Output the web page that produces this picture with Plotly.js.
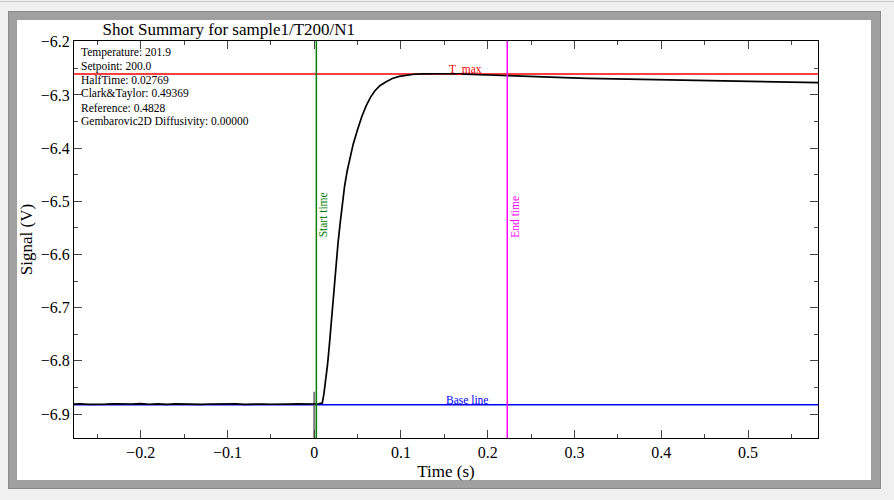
<!DOCTYPE html>
<html>
<head>
<meta charset="utf-8">
<script src="https://cdn.plot.ly/plotly-3.0.1.min.js"></script>
<style>
  html, body { margin:0; padding:0; background:#f0f0f0; width:894px; height:500px; overflow:hidden; }
  #topline { position:absolute; left:0; top:1px; width:894px; height:1px; background:#c8c8c8; }
  #frame { position:absolute; left:8px; top:11px; width:871px; height:476px; background:#a0a0a0; border:1px solid #8a8a8a; }
  #inner { position:absolute; left:17px; top:20px; width:854px; height:460px; background:#ffffff; }
  #chart { position:absolute; left:0; top:0; width:894px; height:500px; }
</style>
</head>
<body>
<div id="topline"></div>
<div id="frame"></div>
<div id="inner"></div>
<div id="chart"></div>
<script>
// ---- data ----
const chartTitle = "Shot Summary for sample1/T200/N1";
const xTitle = "Time (s)";
const yTitle = "Signal (V)";

const time = [
  -0.2768, -0.27, -0.26, -0.25, -0.24, -0.23, -0.22, -0.21, -0.20, -0.19,
  -0.18, -0.17, -0.16, -0.15, -0.14, -0.13, -0.12, -0.11, -0.10, -0.09,
  -0.08, -0.07, -0.06, -0.05, -0.04, -0.03, -0.02, -0.01, 0.000, 0.005,
  0.0093, 0.0112, 0.0135, 0.0155, 0.0175, 0.0195, 0.0215, 0.0235, 0.0255, 0.0275,
  0.0300, 0.0325, 0.0350, 0.0380, 0.0410, 0.0450, 0.0500, 0.0550, 0.0600, 0.0650,
  0.0700, 0.0760, 0.0830, 0.0900, 0.0980, 0.1060, 0.115,
  0.125, 0.135, 0.145, 0.155, 0.165, 0.175, 0.185, 0.195, 0.205, 0.215,
  0.225, 0.235, 0.245, 0.255, 0.265, 0.275, 0.285, 0.295, 0.305, 0.315,
  0.325, 0.335, 0.345, 0.355, 0.365, 0.375, 0.385, 0.395, 0.405, 0.415,
  0.425, 0.435, 0.445, 0.455, 0.465, 0.475, 0.485, 0.495, 0.505, 0.515,
  0.525, 0.535, 0.545, 0.555, 0.565, 0.575, 0.5806
];
const signal = [
  -6.8812, -6.8806, -6.8817, -6.8809, -6.8814, -6.8808, -6.8816, -6.8811, -6.8805, -6.8815,
  -6.8810, -6.8818, -6.8807, -6.8813, -6.8809, -6.8816, -6.8811, -6.8806, -6.8814, -6.8810,
  -6.8817, -6.8808, -6.8812, -6.8815, -6.8807, -6.8813, -6.8810, -6.8814, -6.8811, -6.8806,
  -6.8795, -6.862, -6.835, -6.805, -6.770, -6.731, -6.690, -6.650, -6.612, -6.578,
  -6.540, -6.503, -6.472, -6.443, -6.418, -6.392, -6.365, -6.340, -6.320, -6.304,
  -6.292, -6.282, -6.275, -6.269, -6.2650, -6.2625, -6.2610,
  -6.2602, -6.2598, -6.2600, -6.2601, -6.2604, -6.2610, -6.2616, -6.2624, -6.2632, -6.2640,
  -6.2648, -6.2653, -6.2658, -6.2663, -6.2667, -6.2671, -6.2675, -6.2679, -6.2683, -6.2686,
  -6.2689, -6.2692, -6.2695, -6.2698, -6.2701, -6.2704, -6.2707, -6.2710, -6.2713, -6.2716,
  -6.2719, -6.2722, -6.2725, -6.2728, -6.2731, -6.2734, -6.2737, -6.2740, -6.2743, -6.2746,
  -6.2749, -6.2752, -6.2755, -6.2758, -6.2761, -6.2764, -6.2768
];

// short flash marker at t = 0
const flashTime = [0.0, 0.0];
const flashSignal = [-6.858, -6.95];

const startTime = 0.0025;
const endTime = 0.2225;
const tMax = -6.2605;
const baseLine = -6.8825;
const markerLabelTime = 0.1525;

const infoLines = [
  "Temperature: 201.9",
  "Setpoint: 200.0",
  "HalfTime: 0.02769",
  "Clark&Taylor: 0.49369",
  "Reference: 0.4828",
  "Gembarovic2D Diffusivity: 0.00000"
];

const xRange = [-0.2768, 0.5806];
const yRange = [-6.945, -6.1985];
const xTickVals = [-0.2, -0.1, 0, 0.1, 0.2, 0.3, 0.4, 0.5];
const xTickText = ["\u22120.2", "\u22120.1", "0", "0.1", "0.2", "0.3", "0.4", "0.5"];
const yTickVals = [-6.9, -6.8, -6.7, -6.6, -6.5, -6.4, -6.3, -6.2];
const yTickText = ["\u22126.9", "\u22126.8", "\u22126.7", "\u22126.6", "\u22126.5", "\u22126.4", "\u22126.3", "\u22126.2"];

// ---- chart ----
const serif = "Liberation Serif, Times New Roman, serif";

const traces = [
  { x: xRange, y: [tMax, tMax], mode: "lines", line: { color: "#ff0000", width: 1.5 }, hoverinfo: "skip" },
  { x: xRange, y: [baseLine, baseLine], mode: "lines", line: { color: "#0000ff", width: 1.5 }, hoverinfo: "skip" },
  { x: flashTime, y: flashSignal, mode: "lines", line: { color: "#7a7a7a", width: 2 }, hoverinfo: "skip" },
  { x: time, y: signal, mode: "lines", line: { color: "#000000", width: 1.7 }, name: "signal" }
];

const shapes = [
  { type: "line", xref: "x", yref: "paper", x0: startTime, x1: startTime, y0: 0, y1: 1, line: { color: "#008000", width: 1.5 } },
  { type: "line", xref: "x", yref: "paper", x0: endTime, x1: endTime, y0: 0, y1: 1, line: { color: "#ff00ff", width: 1.5 } }
];

const annotations = [];
infoLines.forEach((t, i) => {
  annotations.push({
    text: t, xref: "paper", yref: "paper",
    x: 5 / 744, y: 1 - (11.5 + i * 13.8) / 397,
    xanchor: "left", yanchor: "middle", showarrow: false,
    font: { family: serif, size: 11.5, color: "#000000" }
  });
});
annotations.push({
  text: "Start time", xref: "x", yref: "paper", x: startTime, y: 0.5,
  xshift: 7, xanchor: "center", yanchor: "bottom", textangle: -90, showarrow: false,
  font: { family: serif, size: 11.5, color: "#008000" }
});
annotations.push({
  text: "End time", xref: "x", yref: "paper", x: endTime, y: 0.5,
  xshift: 7, xanchor: "center", yanchor: "bottom", textangle: -90, showarrow: false,
  font: { family: serif, size: 11.5, color: "#ff00ff" }
});
annotations.push({
  text: "T_max", xref: "x", yref: "y", x: markerLabelTime, y: tMax,
  xanchor: "left", yanchor: "bottom", yshift: -3, showarrow: false,
  font: { family: serif, size: 11.5, color: "#ff0000" }
});
annotations.push({
  text: "Base line", xref: "x", yref: "y", x: markerLabelTime - 0.003, y: baseLine,
  xanchor: "left", yanchor: "bottom", yshift: -3, showarrow: false,
  font: { family: serif, size: 11.5, color: "#0000ff" }
});

const axisCommon = {
  showgrid: false, zeroline: false, showline: true, linecolor: "#000000", linewidth: 1,
  mirror: "allticks", ticks: "inside", ticklen: 8, tickcolor: "#444444", tickwidth: 1,
  tickmode: "array", tickfont: { family: serif, size: 16, color: "#000000" }
};

const layout = {
  width: 894, height: 500,
  paper_bgcolor: "rgba(0,0,0,0)", plot_bgcolor: "#ffffff",
  margin: { l: 74, r: 76, t: 41, b: 62, pad: 0 },
  showlegend: false,
  title: {
    text: chartTitle, xref: "container", yref: "container",
    x: 102.5 / 894, xanchor: "left", y: 1 - 29 / 500, yanchor: "middle",
    font: { family: serif, size: 17, color: "#000000" }
  },
  xaxis: Object.assign({}, axisCommon, {
    range: xRange, tickvals: xTickVals, ticktext: xTickText,
    minor: { dtick: 0.05, tick0: 0, ticks: "inside", ticklen: 4, tickcolor: "#444444" },
    title: { text: xTitle, font: { family: serif, size: 17, color: "#000000" }, standoff: 4 }
  }),
  yaxis: Object.assign({}, axisCommon, {
    range: yRange, tickvals: yTickVals, ticktext: yTickText,
    minor: { dtick: 0.05, tick0: -6.9, ticks: "inside", ticklen: 4, tickcolor: "#444444" },
    title: { text: yTitle, font: { family: serif, size: 17, color: "#000000" }, standoff: 3 }
  }),
  shapes: shapes,
  annotations: annotations
};

Plotly.newPlot("chart", traces, layout, { displayModeBar: false, staticPlot: true });
</script>
</body>
</html>
